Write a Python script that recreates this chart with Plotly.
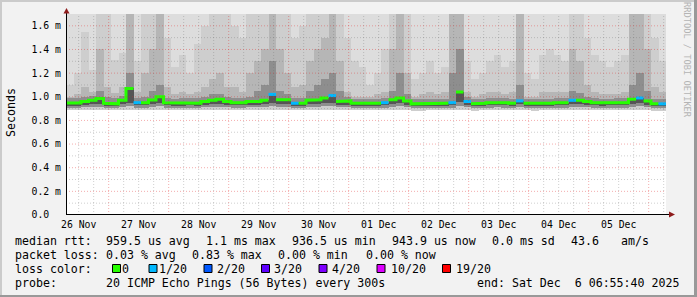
import pandas as pd
import plotly.graph_objects as go

# ---------------- data ----------------
START = "2025-11-26 06:55:40"
END = "2025-12-06 06:55:40"
BIN_HOURS = 3

median_ms = [
    0.948, 0.948, 0.960, 0.970, 0.985, 0.945, 0.940, 0.970, 1.070, 0.950,
    0.950, 0.972, 1.000, 0.950, 0.945, 0.945, 0.950, 0.945, 0.960, 0.970,
    0.980, 0.960, 0.950, 0.950, 0.960, 0.960, 0.970, 1.020, 0.975, 0.975,
    0.945, 0.945, 0.970, 0.975, 0.990, 1.010, 0.960, 0.965, 0.945, 0.945,
    0.945, 0.945, 0.950, 0.975, 0.990, 0.965, 0.940, 0.940, 0.945, 0.945,
    0.945, 0.950, 1.040, 0.960, 0.940, 0.945, 0.950, 0.955, 0.950, 0.945,
    0.965, 0.945, 0.940, 0.945, 0.945, 0.950, 0.950, 0.970, 0.970, 0.960,
    0.950, 0.945, 0.950, 0.950, 0.950, 0.980, 0.990, 0.965, 0.940, 0.940,
]
loss_of_20 = [
    0, 0, 0, 0, 0, 0, 0, 0, 0, 1,
    0, 0, 0, 0, 0, 0, 0, 0, 0, 0,
    0, 0, 0, 0, 0, 0, 0, 1, 0, 0,
    1, 0, 0, 0, 0, 1, 0, 0, 0, 0,
    0, 0, 1, 0, 0, 0, 0, 0, 0, 0,
    0, 1, 0, 1, 0, 0, 0, 0, 0, 0,
    1, 0, 0, 0, 0, 0, 0, 1, 0, 0,
    0, 0, 0, 0, 0, 0, 1, 0, 0, 1,
]
smoke_min = [
    0.885, 0.885, 0.888, 0.890, 0.890, 0.886, 0.884, 0.888, 0.890, 0.886,
    0.886, 0.888, 0.890, 0.886, 0.884, 0.884, 0.885, 0.884, 0.886, 0.888,
    0.890, 0.888, 0.886, 0.886, 0.888, 0.888, 0.890, 0.892, 0.890, 0.888,
    0.884, 0.884, 0.888, 0.890, 0.892, 0.892, 0.888, 0.886, 0.884, 0.884,
    0.884, 0.884, 0.885, 0.888, 0.890, 0.888, 0.883, 0.883, 0.884, 0.884,
    0.884, 0.888, 0.892, 0.886, 0.883, 0.884, 0.885, 0.886, 0.885, 0.884,
    0.888, 0.884, 0.883, 0.884, 0.884, 0.885, 0.885, 0.888, 0.888, 0.886,
    0.885, 0.884, 0.885, 0.885, 0.885, 0.890, 0.892, 0.888, 0.883, 0.883,
]
smoke_low = [
    0.908, 0.908, 0.912, 0.914, 0.916, 0.908, 0.906, 0.914, 0.920, 0.909,
    0.909, 0.914, 0.918, 0.909, 0.907, 0.907, 0.908, 0.907, 0.911, 0.914,
    0.916, 0.911, 0.909, 0.909, 0.911, 0.911, 0.914, 0.920, 0.915, 0.915,
    0.907, 0.907, 0.914, 0.915, 0.918, 0.920, 0.911, 0.912, 0.907, 0.907,
    0.907, 0.907, 0.909, 0.915, 0.918, 0.912, 0.906, 0.906, 0.907, 0.907,
    0.907, 0.909, 0.922, 0.911, 0.906, 0.907, 0.909, 0.910, 0.909, 0.907,
    0.912, 0.907, 0.906, 0.907, 0.907, 0.909, 0.909, 0.914, 0.914, 0.911,
    0.909, 0.907, 0.909, 0.909, 0.909, 0.916, 0.918, 0.912, 0.906, 0.906,
]
smoke_core = [
    0.925, 0.925, 0.930, 0.935, 0.940, 0.924, 0.922, 0.935, 0.950, 0.928,
    0.928, 0.935, 0.950, 0.928, 0.924, 0.924, 0.927, 0.924, 0.930, 0.935,
    0.940, 0.930, 0.928, 0.928, 0.930, 0.930, 0.935, 0.950, 0.940, 0.940,
    0.924, 0.924, 0.935, 0.940, 0.945, 0.950, 0.930, 0.932, 0.924, 0.924,
    0.924, 0.924, 0.927, 0.940, 0.945, 0.932, 0.922, 0.922, 0.924, 0.924,
    0.924, 0.927, 0.955, 0.930, 0.922, 0.924, 0.927, 0.930, 0.927, 0.924,
    0.935, 0.924, 0.922, 0.924, 0.924, 0.927, 0.927, 0.935, 0.935, 0.930,
    0.927, 0.924, 0.927, 0.927, 0.927, 0.940, 0.945, 0.932, 0.922, 0.922,
]
smoke_g3 = [
    0.99, 0.99, 1.00, 1.01, 1.05, 1.00, 0.99, 1.01, 1.20, 0.99,
    1.00, 1.05, 1.10, 0.99, 0.98, 0.99, 0.99, 0.99, 1.00, 1.02,
    1.02, 1.00, 0.99, 0.99, 1.00, 1.05, 1.10, 1.30, 1.05, 1.02,
    0.99, 0.99, 1.05, 1.10, 1.15, 1.20, 1.05, 1.00, 0.98, 0.98,
    0.98, 0.98, 0.99, 1.05, 1.20, 1.02, 0.98, 0.98, 0.98, 0.98,
    0.98, 1.20, 1.40, 1.00, 0.98, 0.98, 0.99, 0.99, 0.99, 0.98,
    1.10, 0.98, 0.98, 0.98, 0.98, 0.99, 0.99, 1.05, 1.03, 1.00,
    0.99, 0.98, 0.98, 0.99, 0.99, 1.10, 1.20, 1.05, 0.98, 0.98,
]
smoke_g2 = [
    1.00, 1.02, 1.08, 1.04, 1.40, 1.08, 1.03, 1.08, 1.90, 1.04,
    1.20, 1.40, 1.90, 1.08, 1.02, 1.04, 1.02, 1.04, 1.08, 1.15,
    1.20, 1.08, 1.08, 1.04, 1.20, 1.30, 1.40, 1.90, 1.40, 1.20,
    1.08, 1.10, 1.30, 1.40, 1.50, 1.90, 1.30, 1.04, 1.00, 1.00,
    1.00, 1.02, 1.04, 1.40, 1.90, 1.20, 1.00, 1.02, 1.04, 1.02,
    1.04, 1.90, 1.90, 1.04, 1.00, 1.02, 1.04, 1.04, 1.02, 1.04,
    1.90, 1.00, 1.00, 1.04, 1.04, 1.04, 1.04, 1.40, 1.30, 1.10,
    1.04, 1.02, 1.02, 1.02, 1.04, 1.90, 1.90, 1.40, 1.08, 1.04,
]
smoke_g1 = [
    1.10, 1.20, 1.55, 1.23, 2.00, 2.00, 1.31, 1.37, 2.10, 1.30,
    2.00, 2.00, 2.10, 1.50, 1.25, 1.35, 1.20, 1.45, 1.60, 2.00,
    2.00, 1.90, 1.60, 1.50, 2.00, 2.00, 2.10, 2.20, 2.00, 1.90,
    1.50, 1.60, 2.00, 2.10, 2.10, 2.20, 2.00, 1.50, 1.30, 1.25,
    1.10, 1.20, 1.40, 2.00, 2.20, 1.90, 1.15, 1.20, 1.30, 1.20,
    1.25, 2.10, 2.30, 1.30, 1.15, 1.20, 1.30, 1.35, 1.25, 1.30,
    2.10, 1.20, 1.15, 1.35, 1.40, 1.35, 1.30, 2.00, 1.90, 1.50,
    1.35, 1.30, 1.25, 1.30, 1.35, 2.10, 2.20, 2.00, 1.50, 1.30,
]
smoke_max = [
    2.4, 2.6, 2.9, 2.5, 3.4, 3.1, 2.7, 2.8, 4.2, 2.6,
    3.0, 3.3, 3.9, 2.9, 2.5, 2.7, 2.4, 2.8, 3.0, 3.2,
    3.3, 3.0, 2.8, 2.7, 3.1, 3.2, 3.5, 4.0, 3.4, 3.1,
    2.8, 2.9, 3.2, 3.4, 3.6, 3.9, 3.2, 2.7, 2.4, 2.3,
    2.2, 2.4, 2.6, 3.4, 4.1, 3.0, 2.2, 2.3, 2.5, 2.3,
    2.4, 3.8, 4.4, 2.5, 2.2, 2.3, 2.4, 2.5, 2.3, 2.4,
    3.6, 2.3, 2.2, 2.5, 2.6, 2.5, 2.4, 3.3, 3.1, 2.8,
    2.6, 2.4, 2.3, 2.5, 2.6, 3.7, 3.9, 3.3, 2.7, 2.4,
]

day_labels = ["26 Nov", "27 Nov", "28 Nov", "29 Nov", "30 Nov",
              "01 Dec", "02 Dec", "03 Dec", "04 Dec", "05 Dec"]
y_tick_vals = [0.0, 0.2, 0.4, 0.6, 0.8, 1.0, 1.2, 1.4, 1.6]
y_tick_text = ["0.0\u00a0\u00a0", "0.2 m", "0.4 m", "0.6 m", "0.8 m",
               "1.0 m", "1.2 m", "1.4 m", "1.6 m"]

loss_labels = ["0", "1/20", "2/20", "3/20", "4/20", "10/20", "19/20"]
loss_counts = [0, 1, 2, 3, 4, 10, 19]
loss_colors = ["#26ff00", "#00b8ff", "#0059ff", "#5e00ff", "#7e00ff", "#dd00ff", "#ff0000"]

rtt_stats = ["median rtt:", "959.5 us avg", "1.1 ms max", "936.5 us min",
             "943.9 us now", "0.0 ms sd", "43.6", "am/s"]
loss_stats = ["packet loss:", "0.03 % avg", "0.83 % max", "0.00 % min", "0.00 % now"]
probe_text = ["probe:", "20 ICMP Echo Pings (56 Bytes) every 300s",
              "end: Sat Dec  6 06:55:40 2025"]

# ---------------- layout constants ----------------
W, H = 697, 297
PL, PR, PT, PB = 66, 666, 14, 215          # plot area in pixels
MONO = "DejaVu Sans Mono"


def px(xp):
    return (xp - PL) / (PR - PL)


def py(yp):
    return (PB - yp) / (PB - PT)


n = len(median_ms)
bin_start = pd.date_range(START, periods=n, freq=f"{BIN_HOURS}h")
bin_end = bin_start + pd.Timedelta(hours=BIN_HOURS)
bin_mid = bin_start + pd.Timedelta(hours=BIN_HOURS / 2)
bw = BIN_HOURS * 3600 * 1000

fig = go.Figure()


def smoke_layer(lo, hi, color):
    fig.add_trace(go.Bar(
        x=bin_mid, base=lo, y=[h - l for h, l in zip(hi, lo)], width=bw,
        marker=dict(color=color, line=dict(width=0)), showlegend=False,
        hoverinfo="skip"))


smoke_layer(smoke_min, smoke_max, "#dddddd")
smoke_layer(smoke_min, smoke_g1, "#cecece")
smoke_layer(smoke_low, smoke_g2, "#b6b6b6")
smoke_layer(smoke_low, smoke_g3, "#8e8e8e")
smoke_layer(smoke_core, median_ms, "#555555")

# median line coloured by loss
for cnt, col in zip(loss_counts, loss_colors):
    xs, ys = [], []
    for i in range(n):
        if loss_of_20[i] == cnt:
            xs += [bin_start[i], bin_end[i]]
            ys += [median_ms[i], median_ms[i]]
        else:
            if xs and xs[-1] is not None:
                xs.append(None)
                ys.append(None)
    if any(v is not None for v in ys):
        fig.add_trace(go.Scatter(x=xs, y=ys, mode="lines",
                                 line=dict(color=col, width=3),
                                 showlegend=False, hoverinfo="skip"))

MAJOR = "rgba(225,40,40,0.38)"
MINOR = "rgba(110,110,110,0.33)"
shapes = []
# grid lines (drawn above the smoke, like rrdtool)
grid_times = pd.date_range("2025-11-26 12:00", "2025-12-06 06:00", freq="6h")
for t in grid_times:
    major = t.hour == 0
    shapes.append(dict(type="line", xref="x", yref="paper", x0=t, x1=t, y0=0, y1=1,
                       layer="above",
                       line=dict(color=MAJOR if major else MINOR, width=1, dash="1px,2px")))
for k in range(1, 17):
    v = k / 10
    major = k % 2 == 0
    shapes.append(dict(type="line", xref="paper", yref="y", x0=0, x1=1, y0=v, y1=v,
                       layer="above",
                       line=dict(color=MAJOR if major else MINOR, width=1, dash="1px,2px")))

# axes with arrows
shapes.append(dict(type="line", xref="paper", yref="paper", layer="above",
                   x0=px(66.5), x1=px(66.5), y0=py(215), y1=py(12),
                   line=dict(color="black", width=1)))
shapes.append(dict(type="line", xref="paper", yref="paper", layer="above",
                   x0=px(66), x1=px(670), y0=py(214.5), y1=py(214.5),
                   line=dict(color="black", width=1)))
shapes.append(dict(type="path", xref="paper", yref="paper", layer="above",
                   path=f"M {px(63.5)} {py(13.5)} L {px(69.5)} {py(13.5)} L {px(66.5)} {py(8)} Z",
                   fillcolor="#8e1c1c", line=dict(width=0)))
shapes.append(dict(type="path", xref="paper", yref="paper", layer="above",
                   path=f"M {px(669)} {py(211.5)} L {px(669)} {py(217.5)} L {px(675)} {py(214.5)} Z",
                   fillcolor="#8e1c1c", line=dict(width=0)))

# frame (rrdtool shade)
shapes.append(dict(type="rect", xref="paper", yref="paper", layer="above",
                   x0=px(0), x1=px(W), y0=py(0), y1=py(2), fillcolor="#cbcbcb", line=dict(width=0)))
shapes.append(dict(type="rect", xref="paper", yref="paper", layer="above",
                   x0=px(0), x1=px(2), y0=py(0), y1=py(H), fillcolor="#cbcbcb", line=dict(width=0)))
shapes.append(dict(type="rect", xref="paper", yref="paper", layer="above",
                   x0=px(0), x1=px(W), y0=py(H - 2), y1=py(H), fillcolor="#999999", line=dict(width=0)))
shapes.append(dict(type="rect", xref="paper", yref="paper", layer="above",
                   x0=px(W - 3), x1=px(W), y0=py(0), y1=py(H), fillcolor="#999999", line=dict(width=0)))

annotations = []


def text(x, y, s, size=11.6, color="#000000", angle=0, xanchor="left"):
    annotations.append(dict(x=px(x), y=py(y), xref="paper", yref="paper", text=s,
                            showarrow=False, xanchor=xanchor, yanchor="middle",
                            textangle=angle, borderpad=0, borderwidth=0,
                            font=dict(family=MONO, size=size, color=color)))


# legend / statistics rows
rtt_x = [15, 105.5, 205.5, 292, 392, 492, 570.5, 620.5]
for x, s in zip(rtt_x, rtt_stats):
    text(x, 241, s)
loss_x = [15, 105.5, 192, 278, 365.5]
for x, s in zip(loss_x, loss_stats):
    text(x, 255, s)
text(15, 269, "loss color:")
sq_x = [112.5, 149, 204, 261.5, 319, 377, 442.5]
lbl_x = [122, 159, 217, 274, 332, 390.5, 455.5]
for sx, lx, lab, col in zip(sq_x, lbl_x, loss_labels, loss_colors):
    shapes.append(dict(type="rect", xref="paper", yref="paper", layer="above",
                       x0=px(sx), x1=px(sx + 8), y0=py(264.5), y1=py(272.5),
                       fillcolor=col, line=dict(color="black", width=1)))
    text(lx, 269, lab)
probe_x = [15, 105.5, 477]
for x, s in zip(probe_x, probe_text):
    text(x, 283, s)

text(11, 113, "Seconds", angle=-90, xanchor="center")
text(687, 60, "RRDTOOL / TOBI OETIKER", size=8.7, color="#b4b4b4", angle=90, xanchor="center")

fig.update_layout(
    width=W, height=H,
    margin=dict(l=PL, r=W - PR, t=PT, b=H - PB, pad=0),
    paper_bgcolor="#f2f2f2", plot_bgcolor="#ffffff",
    barmode="overlay", bargap=0, showlegend=False,
    shapes=shapes, annotations=annotations,
    xaxis=dict(type="date", range=[START, END], showgrid=False, zeroline=False,
               showline=False, ticks="",
               tickvals=pd.date_range("2025-11-26 12:00", periods=len(day_labels), freq="1D"),
               ticktext=day_labels, ticklabelstandoff=2,
               tickfont=dict(family=MONO, size=9.8, color="#000000")),
    yaxis=dict(range=[0, 1.7], showgrid=False, zeroline=False, showline=False,
               ticks="", tickvals=y_tick_vals, ticktext=y_tick_text,
               ticklabelstandoff=4,
               tickfont=dict(family=MONO, size=9.8, color="#000000")),
)

fig.write_html("out.html")
